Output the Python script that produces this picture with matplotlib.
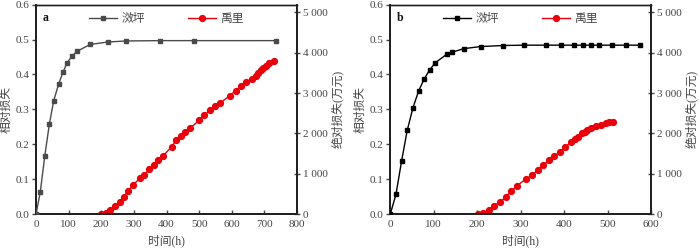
import matplotlib
matplotlib.use("Agg")
import matplotlib.pyplot as plt
from matplotlib.ticker import FuncFormatter

plt.rcParams['font.family'] = ['Liberation Serif', 'Noto Sans CJK SC']
plt.rcParams['font.size'] = 8
plt.rcParams['axes.unicode_minus'] = False

# panel a
a_hours_lx = [0, 13, 27, 41, 54, 70, 83, 95, 110, 125, 166, 220, 275, 381, 485, 737]
a_rel_lx = [0.0, 0.062, 0.167, 0.258, 0.324, 0.374, 0.407, 0.433, 0.452, 0.466,
            0.486, 0.493, 0.496, 0.497, 0.497, 0.497]
a_hours_yl = [198, 215, 227, 242, 256, 269, 283, 297, 319, 332, 347, 361, 374, 389,
              416, 430, 443, 458, 473, 500, 516, 534, 549, 565, 594, 612, 628, 644,
              661, 675, 681, 689, 697, 705, 714, 731]
a_abs_yl = [0, 25, 107, 206, 298, 430, 578, 712, 893, 975, 1109, 1223, 1340, 1439,
            1670, 1836, 1940, 2035, 2130, 2325, 2457, 2573, 2672, 2754, 2935, 3060,
            3176, 3268, 3350, 3432, 3499, 3566, 3623, 3680, 3739, 3800]

# panel b
b_hours_lx = [0, 13, 26, 39, 52, 65, 78, 91, 104, 130, 143, 169, 208, 259, 307, 359,
              393, 423, 443, 461, 481, 511, 543, 575]
b_rel_lx = [0.0, 0.056, 0.152, 0.240, 0.304, 0.352, 0.387, 0.414, 0.434, 0.458,
            0.464, 0.474, 0.480, 0.483, 0.484, 0.484, 0.484, 0.484, 0.484, 0.484,
            0.484, 0.484, 0.484, 0.484]
b_hours_yl = [201, 214, 227, 239, 252, 266, 278, 291, 313, 326, 339, 351, 365, 377,
              390, 403, 417, 425, 431, 441, 447, 453, 463, 473, 484, 496, 504, 513]
b_abs_yl = [0, 32, 107, 206, 290, 422, 563, 695, 876, 960, 1084, 1208, 1332, 1432,
            1538, 1663, 1794, 1868, 1918, 2002, 2040, 2077, 2134, 2184, 2216, 2258,
            2275, 2290]

names = ["滧坪", "禹里"]
x_label = "时间(h)"
left_label = "相对损失"
right_label = "绝对损失(万元)"

text_c = "#444444"
red = "#e8000a"


def thousands(v, pos):
    v = int(round(v))
    return f"{v:,}".replace(",", " ")


def draw_panel(rect, tag, hx, rel, hy, ab, xmax, black_c):
    ax = fig.add_axes(rect)
    ax2 = ax.twinx()
    l1, = ax.plot(hx, rel, color=black_c, lw=1.0, marker='s', ms=3.3, zorder=3)
    l2, = ax2.plot(hy, ab, color=red, lw=1.0, marker='o', ms=4.2, zorder=3)

    ax.set_xlim(0, xmax)
    ax.set_ylim(0, 0.6)
    ax.set_xticks(range(0, xmax + 1, 100))
    ax.set_yticks([0, 0.1, 0.2, 0.3, 0.4, 0.5, 0.6])
    ax.yaxis.set_major_formatter(FuncFormatter(lambda v, p: f"{v:.1f}"))
    ax2.set_ylim(0, 5190)
    ax2.set_yticks(range(0, 5001, 1000))
    ax2.yaxis.set_major_formatter(FuncFormatter(thousands))

    ax.tick_params(axis='x', direction='in', length=3, width=1, pad=4, colors=text_c,
                   labelsize=8)
    ax.tick_params(axis='y', direction='out', length=3, width=1, pad=2, colors=text_c,
                   labelsize=8)
    ax2.tick_params(axis='y', direction='inout', length=4, width=1, pad=2,
                    colors=text_c, labelsize=8)
    for a in (ax, ax2):
        for s in a.spines.values():
            s.set_color("#222222")
            s.set_linewidth(1.0)
        a.spines['left'].set_linewidth(1.4)
        a.spines['right'].set_linewidth(1.4)
        a.spines['bottom'].set_linewidth(1.4)

    ax.set_xlabel(x_label, color=text_c, fontsize=8.5, labelpad=4)
    ax.set_ylabel(left_label, color=text_c, fontsize=8.5, labelpad=2)
    ax2.set_ylabel(right_label, color=text_c, fontsize=8.5, labelpad=3)

    ax.text(0.025, 0.965, tag, transform=ax.transAxes, fontweight='bold',
            fontsize=8.5, va='top', ha='left', color="#111111")
    ax.legend([l1, l2], names, loc='upper center', bbox_to_anchor=(0.5, 1.01),
              ncol=2, frameon=False, fontsize=8.5, handlelength=2.4,
              columnspacing=3.6, handletextpad=0.4, labelcolor=text_c)
    ax.set_zorder(ax2.get_zorder() + 1)
    ax.patch.set_visible(False)
    return ax, ax2


fig = plt.figure(figsize=(7.0, 2.48), dpi=100)
draw_panel([36 / 700, 34 / 248, 261 / 700, 209.3 / 248], "a",
           a_hours_lx, a_rel_lx, a_hours_yl, a_abs_yl, 800, "#4a4a4a")
draw_panel([390.3 / 700, 34 / 248, 260.7 / 700, 209.3 / 248], "b",
           b_hours_lx, b_rel_lx, b_hours_yl, b_abs_yl, 600, "#000000")

fig.savefig("out.png", dpi=100)
